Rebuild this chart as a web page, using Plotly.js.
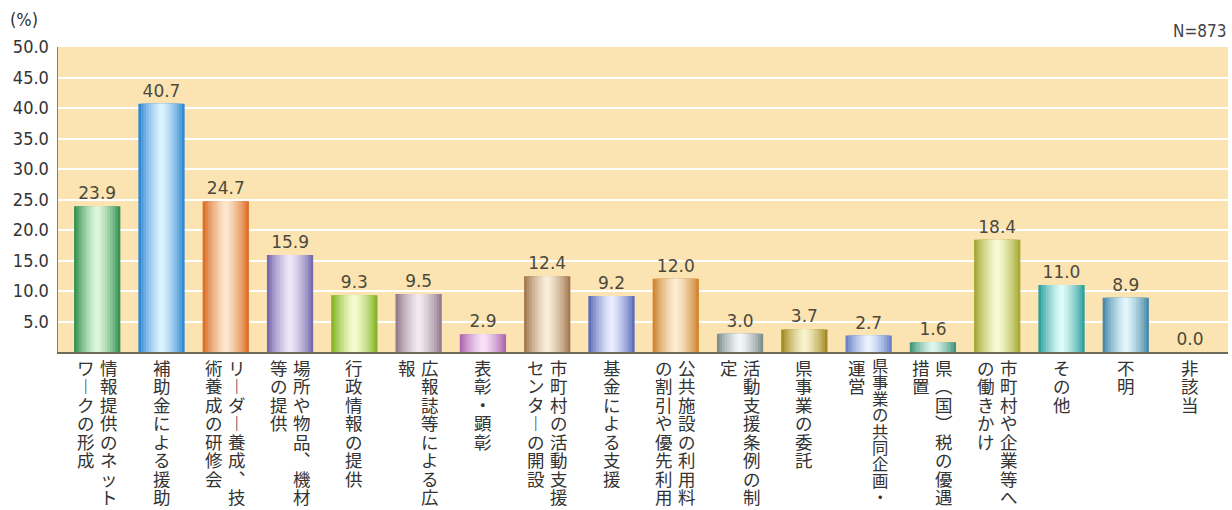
<!DOCTYPE html>
<html>
<head>
<meta charset="utf-8">
<script src="https://cdn.plot.ly/plotly-3.0.1.min.js"></script>
<style>
html,body{margin:0;padding:0;background:#fff;}
#chart{width:1232px;height:510px;}
</style>
</head>
<body>
<div id="chart"></div>
<script>
// ---- data ----
const categories = [
  "情報提供のネットワークの形成",
  "補助金による援助",
  "リーダー養成、技術養成の研修会",
  "場所や物品、機材等の提供",
  "行政情報の提供",
  "広報誌等による広報",
  "表彰・顕彰",
  "市町村の活動支援センターの開設",
  "基金による支援",
  "公共施設の利用料の割引や優先利用",
  "活動支援条例の制定",
  "県事業の委託",
  "県事業の共同企画・運営",
  "県（国）税の優遇措置",
  "市町村や企業等への働きかけ",
  "その他",
  "不明",
  "非該当"
];
// label columns as printed (right column first, vertical writing)
const labelColumns = [
  ["情報提供のネット", "ワークの形成"],
  ["補助金による援助"],
  ["リーダー養成、技", "術養成の研修会"],
  ["場所や物品、機材", "等の提供"],
  ["行政情報の提供"],
  ["広報誌等による広", "報"],
  ["表彰・顕彰"],
  ["市町村の活動支援", "センターの開設"],
  ["基金による支援"],
  ["公共施設の利用料", "の割引や優先利用"],
  ["活動支援条例の制", "定"],
  ["県事業の委託"],
  ["県事業の共同企画・", "運営"],
  ["県（国）税の優遇", "措置"],
  ["市町村や企業等へ", "の働きかけ"],
  ["その他"],
  ["不明"],
  ["非該当"]
];
const values = [23.9, 40.7, 24.7, 15.9, 9.3, 9.5, 2.9, 12.4, 9.2, 12.0, 3.0, 3.7, 2.7, 1.6, 18.4, 11.0, 8.9, 0.0];
const yTickVals = [5, 10, 15, 20, 25, 30, 35, 40, 45, 50];
const yTickText = ["5.0", "10.0", "15.0", "20.0", "25.0", "30.0", "35.0", "40.0", "45.0", "50.0"];
const sampleSize = "N=873";
const unitLabel = "(%)";

// ---- styles ----
const edgeColors = ["#369352","#3389d2","#dc7028","#786aae","#84b526","#967c90","#ae66b0","#a47a52","#5e6eba","#d08632","#7f8e8e","#a28c22","#6a82c8","#44967a","#a4aa34","#30a09e","#4a8aa8","#999999"];
const lightColors = ["#dcf6da","#dcf2fe","#fce6cc","#ece6f8","#f4fcce","#f2e8ee","#f8e0f8","#f8ecd8","#e6ecfe","#fcecd2","#f2f6f6","#f8f2cc","#e8f2fe","#dcf6ec","#f8fad4","#dcfaf8","#e0f4fa","#eeeeee"];

function hex2rgb(h){h=h.replace('#','');return [0,2,4].map(i=>parseInt(h.substr(i,2),16));}
function mix(a,b,t){const A=hex2rgb(a),B=hex2rgb(b);return 'rgb('+A.map((v,i)=>Math.round(v+(B[i]-v)*t)).join(',')+')';}

const xs = categories.map((c,i)=>i);
const layerWidths = [0.72, 0.64, 0.56, 0.48, 0.4, 0.32, 0.24, 0.16, 0.08];
const layerMix = [0, 0.18, 0.34, 0.48, 0.6, 0.72, 0.83, 0.92, 1];

const traces = layerWidths.map((w,k)=>{
  const t = {
    type:'bar', x: xs, y: values, width: w,
    marker:{color: edgeColors.map((c,i)=>mix(c, lightColors[i], layerMix[k])), line:{width:0}},
    hoverinfo:'skip', showlegend:false, cliponaxis:false
  };
  if(k===0){
    t.text = values.map(v=>v.toFixed(1));
    t.textposition = 'outside';
    t.constraintext = 'none';
    t.textfont = {family:'DejaVu Sans, sans-serif', size:17, color:'#4a4a3c'};
  }
  return t;
});

const vertMap = {'ー':'︱','、':'︑','（':'︵','）':'︶'};
const annotations = [];
labelColumns.forEach((cols,i)=>{
  const n = cols.length;
  cols.forEach((col,j)=>{
    const chars = Array.from(col);
    const squeeze = chars.length > 8 ? 8 / chars.length : 1;
    annotations.push({
      xref:'x', yref:'y', x:i, y:0, yanchor:'top', xanchor:'center',
      xshift: ((n-1)/2 - j)*23, yshift: squeeze < 1 ? 1 : -1,
      showarrow:false, align:'center',
      text: chars.map(ch=>'<span style="font-size:'+(17.5*Math.max(squeeze,0.94)).toFixed(1)+'px">'+(vertMap[ch]||ch)+'</span>').join('<br>'),
      font:{family:'Noto Sans CJK JP, sans-serif', size:14.2*squeeze, color:'#333333'}
    });
  });
});
annotations.push({xref:'paper', yref:'paper', x:-0.043, y:1.089, xanchor:'left', yanchor:'middle', showarrow:false,
  text:unitLabel, font:{family:'DejaVu Sans Condensed, sans-serif', size:18, color:'#333'}});
annotations.push({xref:'paper', yref:'paper', x:1.0, y:1.052, xanchor:'right', yanchor:'middle', showarrow:false,
  text:sampleSize, font:{family:'DejaVu Sans Condensed, sans-serif', size:17, color:'#444'}});

const layout = {
  width:1232, height:510,
  margin:{l:58, r:4, t:47, b:158},
  paper_bgcolor:'#ffffff', plot_bgcolor:'#fce3b2',
  barmode:'overlay',
  xaxis:{range:[-0.61, 17.59], showticklabels:false, showgrid:false, zeroline:false,
    showline:true, linecolor:'#6e6a5a', linewidth:1.5, ticks:'', fixedrange:true},
  yaxis:{range:[0,50], tickvals:yTickVals, ticktext:yTickText, showgrid:true, gridcolor:'#ffffff', gridwidth:2,
    zeroline:false, showline:true, linecolor:'#8a7e6a', linewidth:1.5, ticks:'',
    tickfont:{family:'DejaVu Sans Condensed, sans-serif', size:18, color:'#333'}, ticklabelstandoff:4, fixedrange:true},
  annotations: annotations,
  font:{family:'DejaVu Sans, sans-serif'}
};

Plotly.newPlot('chart', traces, layout, {staticPlot:true});
</script>
</body>
</html>
